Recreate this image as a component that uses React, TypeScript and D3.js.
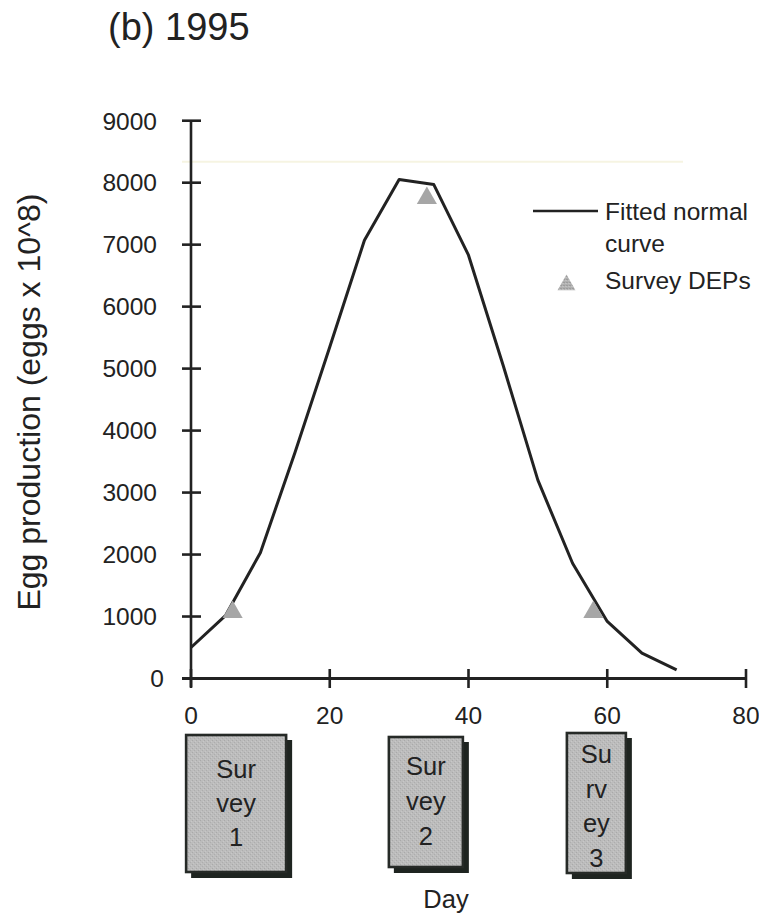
import React from "react";
import * as d3 from "d3";

// ---- data ----
const curveDays = [0, 5, 10, 15, 20, 25, 30, 35, 40, 45, 50, 55, 60, 65, 70];
const curveValues = [500, 1020, 2030, 3650, 5350, 7070, 8050, 7970, 6830, 5050, 3200, 1860, 920, 410, 140];
const surveyDays = [6, 34, 58];
const surveyDEPs = [1070, 7750, 1070];
const yTicks = [0, 1000, 2000, 3000, 4000, 5000, 6000, 7000, 8000, 9000];
const xTicks = [0, 20, 40, 60, 80];
const surveyLabels = [["Sur", "vey", "1"], ["Sur", "vey", "2"], ["Su", "rv", "ey", "3"]];
const titleText = "(b) 1995";
const yLabel = "Egg production (eggs x 10^8)";
const xLabel = "Day";
const legendLabels = ["Fitted normal", "curve", "Survey DEPs"];

// ---- layout / style ----
const W = 759, H = 919;
const FONT = "'Liberation Sans', Arial, Helvetica, sans-serif";
const INK = "#222";
const boxStyle = [
  { dx: 3.5, w: 100, top: 735, h: 137, lineGap: 34, firstBase: 778 },
  { dx: -1, w: 74, top: 737, h: 130, lineGap: 35, firstBase: 775 },
  { dx: 3, w: 59, top: 733, h: 140, lineGap: 34.7, firstBase: 763 },
];

export default function App() {
  const x = d3.scaleLinear().domain([0, 80]).range([191, 746]);
  const y = d3.scaleLinear().domain([0, 9000]).range([678.5, 120.7]);
  const line = d3
    .line<number>()
    .x((_, i) => x(curveDays[i]))
    .y((d) => y(d));
  const tri = d3.symbol().type(d3.symbolTriangle).size(175)();
  const triLegend = d3.symbol().type(d3.symbolTriangle).size(140)();

  return (
    <svg
      width={W}
      height={H}
      viewBox={`0 0 ${W} ${H}`}
      style={{ position: "absolute", left: 0, top: 0, background: "#fff" }}
      fontFamily={FONT}
    >
      <defs>
        <pattern id="stip" width="4" height="4" patternUnits="userSpaceOnUse">
          <rect width="4" height="4" fill="#bcbcbc" />
          <rect x="0" y="0" width="1" height="1" fill="#a9a9a9" />
          <rect x="2" y="2" width="1" height="1" fill="#adadad" />
          <rect x="3" y="1" width="1" height="1" fill="#c8c8c8" />
          <rect x="1" y="3" width="1" height="1" fill="#c6c6c6" />
        </pattern>
        <pattern id="stip2" width="3" height="3" patternUnits="userSpaceOnUse">
          <rect width="3" height="3" fill="#b0b0b0" />
          <rect x="0" y="0" width="1" height="1" fill="#8a8a8a" />
          <rect x="2" y="1" width="1" height="1" fill="#d0d0d0" />
        </pattern>
      </defs>

      {/* title */}
      <text x={108} y={40} fontSize={38} fill={INK}>{titleText}</text>

      {/* faint artifact line */}
      <line x1={182} x2={683} y1={161.7} y2={161.7} stroke="#f6f4e2" strokeWidth={2} />

      {/* y axis */}
      <line x1={x(0)} x2={x(0)} y1={y(9000)} y2={687} stroke={INK} strokeWidth={2.6} />
      {yTicks.map((t) => (
        <g key={"yt" + t}>
          {t > 0 && (
            <line x1={x(0) - 9} x2={x(0) + 10} y1={y(t)} y2={y(t)} stroke={INK} strokeWidth={2.6} />
          )}
          <text
            x={t === 0 ? 164 : 157}
            y={y(t)}
            dy="0.36em"
            textAnchor="end"
            fontSize={24.5}
            fill={INK}
          >
            {t}
          </text>
        </g>
      ))}

      {/* x axis */}
      <line x1={182} x2={x(80)} y1={y(0)} y2={y(0)} stroke={INK} strokeWidth={3.2} />
      {xTicks.map((t) => (
        <g key={"xt" + t}>
          <line x1={x(t)} x2={x(t)} y1={y(0) - 9.5} y2={y(0) + 9.5} stroke={INK} strokeWidth={2.6} />
          <text x={x(t)} y={724} textAnchor="middle" fontSize={24.5} fill={INK}>
            {t}
          </text>
        </g>
      ))}

      {/* y label */}
      <text
        transform={`translate(39.5, 402) rotate(-90)`}
        textAnchor="middle"
        fontSize={32}
        fill={INK}
      >
        {yLabel}
      </text>

      {/* fitted curve */}
      <path d={line(curveValues) || ""} fill="none" stroke={INK} strokeWidth={3} strokeLinejoin="round" />

      {/* survey points */}
      {surveyDEPs.map((v, i) => (
        <path key={"s" + i} d={tri || ""} transform={`translate(${x(surveyDays[i])},${y(v)})`} fill="#a6a6a6" />
      ))}

      {/* legend */}
      <line x1={533} x2={598} y1={211} y2={211} stroke={INK} strokeWidth={2.4} />
      <text x={605} y={220} fontSize={24.5} fill={INK}>{legendLabels[0]}</text>
      <text x={605} y={251.5} fontSize={24.5} fill={INK}>{legendLabels[1]}</text>
      <path d={triLegend || ""} transform="translate(566.5,285)" fill="url(#stip2)" />
      <text x={605} y={288.5} fontSize={24.5} fill={INK}>{legendLabels[2]}</text>

      {/* survey boxes */}
      {surveyLabels.map((lines, i) => {
        const s = boxStyle[i];
        const cx = x(surveyDays[i]) + s.dx;
        const left = cx - s.w / 2;
        return (
          <g key={"box" + i}>
            <rect x={left + 5} y={s.top + 5} width={s.w + 1} height={s.h + 1} fill="#1e2420" />
            <rect x={left} y={s.top} width={s.w} height={s.h} fill="url(#stip)" stroke="#262a27" strokeWidth={2.6} />
            {lines.map((ln, j) => (
              <text
                key={j}
                x={cx}
                y={s.firstBase + j * s.lineGap}
                textAnchor="middle"
                fontSize={25.5}
                fill={INK}
              >
                {ln}
              </text>
            ))}
          </g>
        );
      })}

      {/* x label */}
      <text x={446} y={908} textAnchor="middle" fontSize={25.5} fill={INK}>{xLabel}</text>
    </svg>
  );
}
